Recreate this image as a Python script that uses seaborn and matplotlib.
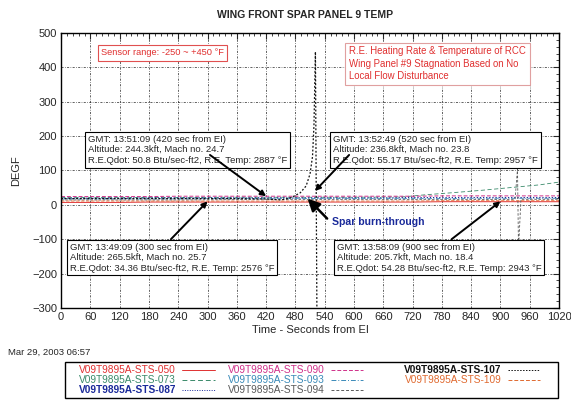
import matplotlib
matplotlib.use("Agg")
import matplotlib.pyplot as plt
import seaborn as sns
import numpy as np
import pandas as pd
from matplotlib.lines import Line2D
from matplotlib.patches import Rectangle

# data (seconds from EI, degF)
t_base = [0, 60, 120, 180, 240, 300, 360, 420, 480, 540, 600, 660, 720, 780, 840, 900, 960, 1020]
temp_050 = [7, 7, 7, 8, 8, 8, 8, 8, 8, 8, 8, 8, 8, 9, 9, 9, 9, 9]
temp_087 = [19, 19, 19, 20, 20, 20, 20, 20, 20, 20, 20, 20, 21, 21, 21, 21, 21, 21]
temp_090 = [24, 24, 24, 24, 25, 25, 25, 25, 25, 25, 25, 25, 25, 26, 26, 26, 26, 26]
temp_093 = [17, 17, 17, 17, 17, 18, 18, 18, 18, 18, 18, 18, 18, 18, 19, 19, 19, 19]
t_094 = [0, 120, 240, 360, 480, 600, 720, 840, 930, 935, 937, 942, 960, 1020]
temp_094 = [14, 14, 14, 15, 15, 15, 15, 15, 16, 105, -130, 16, 16, 16]
temp_109 = [11, 11, 11, 11, 11, 11, 11, 11, 11, 11, 11, 11, 11, 12, 12, 12, 12, 12]
t_073 = [0, 120, 240, 360, 480, 600, 700, 745, 800, 860, 920, 980, 1020]
temp_073 = [21, 21, 21, 22, 22, 22, 23, 29, 35, 42, 50, 58, 66]
t_107 = [0, 60, 120, 180, 240, 300, 360, 420, 450, 470, 490, 502, 510, 515, 518, 521, 524]
temp_107 = [18, 18, 18, 18, 18, 18, 18, 17, 14, 20, 35, 55, 90, 140, 230, 445, -300]

series = [
    ("V09T9895A-STS-050", t_base, temp_050, "#e03030", "-", 0.7, False),
    ("V09T9895A-STS-073", t_073, temp_073, "#3a8a6a", (0, (5, 3)), 0.6, False),
    ("V09T9895A-STS-087", t_base, temp_087, "#1a2a9a", (0, (1, 1.5)), 0.9, True),
    ("V09T9895A-STS-090", t_base, temp_090, "#d0308a", (0, (4, 2)), 0.7, False),
    ("V09T9895A-STS-093", t_base, temp_093, "#3a8ab8", (0, (5, 2, 1, 2)), 0.6, False),
    ("V09T9895A-STS-094", t_094, temp_094, "#5a5a5a", (0, (3, 2)), 0.6, False),
    ("V09T9895A-STS-107", t_107, temp_107, "#111111", (0, (1.5, 1.5)), 0.9, True),
    ("V09T9895A-STS-109", t_base, temp_109, "#e06a30", (0, (4, 2)), 0.6, False),
]

sns.set_style("white")
plt.rcParams['font.family'] = ['Liberation Sans', 'DejaVu Sans']

fig = plt.figure(figsize=(5.71, 4.01), dpi=100)
ax = fig.add_axes([0.107, 0.232, 0.872, 0.686])

for name, tx, ty, col, ls, lw, bold in series:
    df = pd.DataFrame({"t": tx, "v": ty})
    sns.lineplot(data=df, x="t", y="v", ax=ax, color=col, linestyle=ls,
                 linewidth=lw, estimator=None, sort=False, legend=False)

ax.set_xlim(0, 1020)
ax.set_ylim(-300, 500)
ax.set_xticks(np.arange(0, 1021, 60))
ax.set_yticks(np.arange(-300, 501, 100))
ax.set_xticks(np.arange(0, 1021, 12), minor=True)
ax.set_yticks(np.arange(-300, 501, 20), minor=True)
ax.tick_params(which='both', direction='in', top=True, right=True, labelsize=8, pad=3)
ax.tick_params(which='major', length=4, width=0.8)
ax.tick_params(which='minor', length=2, width=0.6)
ax.grid(True, which='major', color='#222222', linestyle=(0, (3, 2, 1, 2)), linewidth=0.5)
for s in ax.spines.values():
    s.set_linewidth(1.0)
    s.set_color('black')

ax.set_xlabel("Time - Seconds from EI", fontsize=8, labelpad=2)
ax.set_ylabel("DEGF", fontsize=8, labelpad=8)
fig.text(0.535, 0.962, "WING FRONT SPAR PANEL 9 TEMP", ha='center', va='center',
         fontsize=7.5, fontweight='bold')
fig.text(0.014, 0.122, "Mar 29, 2003 06:57", ha='left', va='center', fontsize=6.8)

# red notes
ax.text(82, 442, "Sensor range: -250 ~ +450 \u00b0F", fontsize=6.7, color='#e03030',
        va='center', ha='left',
        bbox=dict(boxstyle='square,pad=0.35', fc='white', ec='#e05050', lw=0.8))
ax.text(590, 410, "R.E. Heating Rate & Temperature of RCC\nWing Panel #9 Stagnation Based on No\nLocal Flow Disturbance",
        fontsize=6.9, color='#e03030', va='center', ha='left', linespacing=1.3,
        bbox=dict(boxstyle='square,pad=0.4', fc='white', ec='#e0a0a0', lw=0.8))

# info boxes
boxes = [
    (55, 160, "GMT: 13:51:09 (420 sec from EI)\nAltitude: 244.3kft, Mach no. 24.7\nR.E.Qdot: 50.8 Btu/sec-ft2, R.E. Temp: 2887 \u00b0F",
     (305, 145), (420, 25)),
    (557, 160, "GMT: 13:52:49 (520 sec from EI)\nAltitude: 236.8kft, Mach no. 23.8\nR.E.Qdot: 55.17 Btu/sec-ft2, R.E. Temp: 2957 \u00b0F",
     (590, 145), (520, 40)),
    (18, -154, "GMT: 13:49:09 (300 sec from EI)\nAltitude: 265.5kft, Mach no. 25.7\nR.E.Qdot: 34.36 Btu/sec-ft2, R.E. Temp: 2576 \u00b0F",
     (225, -100), (300, 10)),
    (565, -154, "GMT: 13:58:09 (900 sec from EI)\nAltitude: 205.7kft, Mach no. 18.4\nR.E.Qdot: 54.28 Btu/sec-ft2, R.E. Temp: 2943 \u00b0F",
     (800, -100), (900, 10)),
]
for bx, by, txt, a_from, a_to in boxes:
    ax.text(bx, by, txt, fontsize=6.8, va='center', ha='left', linespacing=1.2,
            bbox=dict(boxstyle='square,pad=0.3', fc='white', ec='black', lw=0.8))
    ax.annotate("", xy=a_to, xytext=a_from,
                arrowprops=dict(arrowstyle='-|>', color='black', lw=1.4,
                                mutation_scale=8, shrinkA=0, shrinkB=0))

# spar burn-through
ax.annotate("", xy=(505, 18), xytext=(545, -40),
            arrowprops=dict(arrowstyle='-|>', color='black', lw=1.8,
                            mutation_scale=18, shrinkA=0, shrinkB=0))
ax.text(555, -50, "Spar burn-through", fontsize=7.6, color='#1a2a9a',
        fontweight='bold', va='center', ha='left')

# legend: one frame, three columns placed like the original
fig.patches.append(Rectangle((0.114, 0.008), 0.863, 0.09, transform=fig.transFigure,
                             fill=False, ec='black', lw=1.0))
col_groups = [[0, 1, 2], [3, 4, 5], [6, 7]]
col_x = [0.125, 0.387, 0.695]
for idxs, cx in zip(col_groups, col_x):
    hs = [Line2D([0], [0], color=series[i][3], linestyle=series[i][4], linewidth=0.7) for i in idxs]
    ls_ = [series[i][0] for i in idxs]
    lg = fig.legend(hs, ls_, loc='upper left', bbox_to_anchor=(cx, 0.107),
                    fontsize=7.3, markerfirst=False, handlelength=3.2,
                    handletextpad=0.6, labelspacing=0.0, borderpad=0.2,
                    frameon=False)
    for txt, i in zip(lg.get_texts(), idxs):
        txt.set_color(series[i][3])
        if series[i][6]:
            txt.set_fontweight('bold')

fig.savefig("out.png", dpi=100)
